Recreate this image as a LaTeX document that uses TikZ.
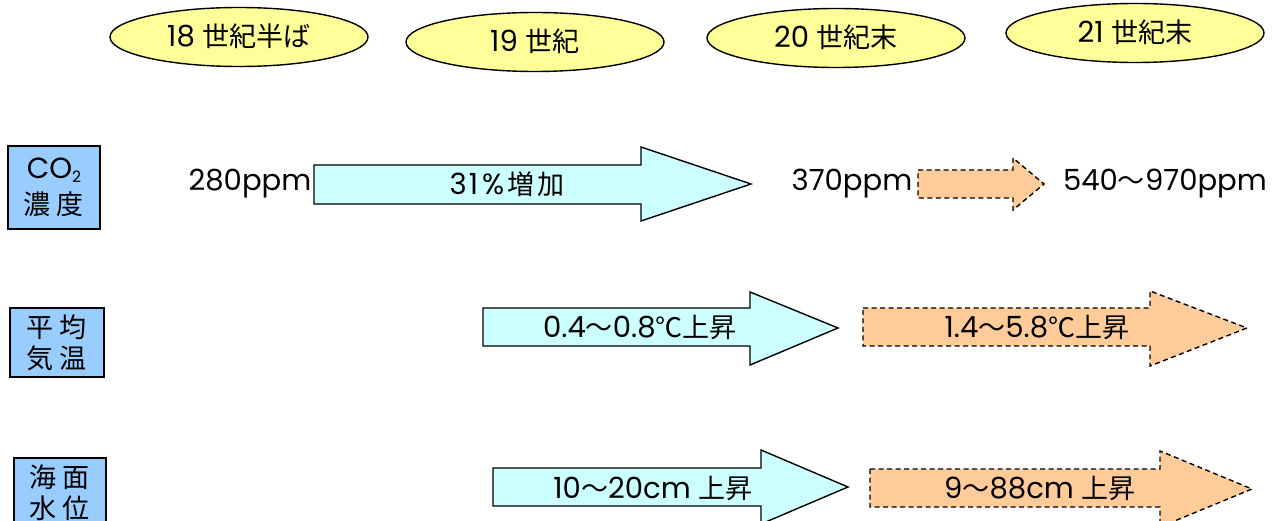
\documentclass[tikz,border=0pt]{standalone}
\usepackage{fontspec}
\setmainfont[Scale=1.12]{Poppins}
\newfontfamily\jpfont[Scale=1.04]{Noto Sans CJK JP}
\newcommand\J[1]{{\jpfont #1}}
\usetikzlibrary{shapes.geometric}
\definecolor{ellfill}{HTML}{FFFF99}
\definecolor{boxfill}{HTML}{99CCFF}
\definecolor{pastfill}{HTML}{CCFFFF}
\definecolor{futfill}{HTML}{FFCC99}
\newcommand\dfont{\fontsize{26}{31}\selectfont}
\begin{document}
\begin{tikzpicture}[x=1pt,y=-1pt,line width=1.4pt,
  era/.style={ellipse,draw,fill=ellfill,minimum width=258pt,minimum height=59pt,inner sep=0pt,font=\dfont},
  cat/.style={rectangle,draw,fill=boxfill,inner sep=0pt,align=center,font=\dfont},
  lbl/.style={inner sep=0pt,font=\dfont},
  pastarrow/.style={draw,fill=pastfill,line join=miter},
  futarrow/.style={draw,fill=futfill,dash pattern=on 5pt off 3.5pt,line join=miter}]
\useasboundingbox (0,0) rectangle (1285,521);
% era ellipses
\node[era] (e1) at (239,37) {\raisebox{3pt}{18 \J{世紀半ば}}};
\node[era] (e2) at (535,42) {\raisebox{3pt}{19 \J{世紀}}};
\node[era] (e3) at (836,38) {\raisebox{3pt}{20 \J{世紀末}}};
\node[era] (e4) at (1135,33) {\raisebox{3pt}{21 \J{世紀末}}};
% category boxes
\node[cat,minimum width=92pt,minimum height=83pt] (c1) at (54,187.5)
  {CO{\fontsize{14}{14}\selectfont\raisebox{-4pt}{2}}\\[5pt]\J{濃\hspace{6pt}度}};
\node[cat,minimum width=94pt,minimum height=69pt] (c2) at (57,342.5) {\J{平\hspace{6pt}均}\\\J{気\hspace{6pt}温}};
\node[cat,minimum width=92pt,minimum height=69pt] (c3) at (60,492.5) {\J{海\hspace{6pt}面}\\\J{水\hspace{6pt}位}};
% row 1 arrows
\draw[pastarrow] (314,165) -- (641,165) -- (641,147) -- (751,184) -- (641,221) -- (641,204) -- (314,204) -- cycle;
\draw[futarrow] (918,170) -- (1013,170) -- (1013,158) -- (1044,184) -- (1013,210) -- (1013,198) -- (918,198) -- cycle;
% row 2 arrows
\draw[pastarrow] (483,308) -- (750,308) -- (750,292) -- (838,328) -- (750,365) -- (750,346) -- (483,346) -- cycle;
\draw[futarrow] (863,308) -- (1150,308) -- (1150,291) -- (1247,328) -- (1150,366) -- (1150,346) -- (863,346) -- cycle;
% row 3 arrows
\draw[pastarrow] (493,468) -- (761,468) -- (761,450) -- (848,487) -- (761,524) -- (761,506) -- (493,506) -- cycle;
\draw[futarrow] (870,469) -- (1160,469) -- (1160,451) -- (1252,489) -- (1160,527) -- (1160,507) -- (870,507) -- cycle;
% labels
\node[lbl] (v1) at (250,184) {280ppm};
\node[lbl] (v2) at (852,184) {370ppm};
\node[lbl] (v3) at (1165,184) {540\J{～}970ppm};
\node[lbl] (a1) at (507,184) {3\hspace{2pt}1\hspace{4pt}\%\hspace{3pt}\J{増\hspace{3pt}加}};
\node[lbl] (a2) at (640,327) {0.4\J{～}0.8\J{℃上昇}};
\node[lbl] (a3) at (1037,327) {1.4\J{～}5.8\J{℃上昇}};
\node[lbl] (a4) at (653,488) {10\J{～}20cm \J{上昇}};
\node[lbl] (a5) at (1040,488) {9\J{～}88cm \J{上昇}};
\end{tikzpicture}
\end{document}
